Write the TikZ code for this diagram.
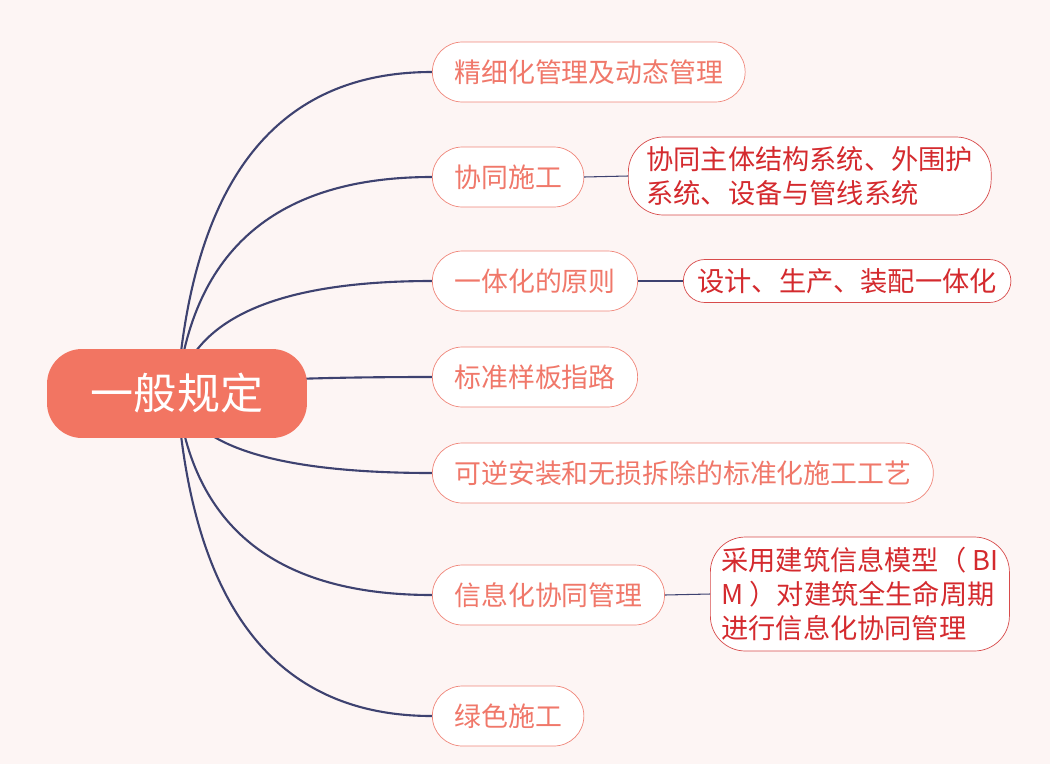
\documentclass[tikz,border=0pt]{standalone}
\usepackage{fontspec}
\setmainfont{Noto Sans CJK SC}
\usetikzlibrary{calc}
\definecolor{bgpink}{HTML}{FDF5F4}
\definecolor{rootred}{HTML}{F27562}
\definecolor{topicline}{HTML}{F0867A}
\definecolor{topictext}{HTML}{F0786A}
\definecolor{leafred}{HTML}{D42A2E}
\definecolor{leafline}{HTML}{D84B4B}
\definecolor{navy}{HTML}{3E4270}
\pgfdeclarelayer{bg}
\pgfsetlayers{bg,main}
\tikzset{
	root/.style={fill=rootred, text=white, rounded corners=0.7cm, minimum width=5.2cm, minimum height=1.78cm, font=\fontsize{24.5}{28}\selectfont},
	topic/.style={draw=topicline, fill=white, text=topictext, rounded corners=0.6cm, minimum height=1.2cm, inner xsep=0.44cm, anchor=west, font=\fontsize{15.3}{18}\selectfont},
	detail/.style={draw=leafline, fill=white, text=leafred, align=left, anchor=west, inner xsep=0.34cm, font=\fontsize{15.5}{19.3}\selectfont},
	branch/.style={draw=navy, line width=1.2pt},
	twig/.style={draw=navy, line width=0.6pt},
}
\begin{document}
\begin{tikzpicture}[x=0.02cm, y=-0.02cm]
		\useasboundingbox (0, 0) rectangle (1050, 764);
		\node[root] (gen) at (177, 393.5) {一般规定};
		\node[topic] (fine) at (432, 72) {精细化管理及动态管理};
		\node[topic] (coop) at (432, 177) {协同施工};
		\node[topic] (integ) at (432, 281) {一体化的原则};
		\node[topic] (sample) at (432, 377) {标准样板指路};
		\node[topic] (revers) at (432, 473) {可逆安装和无损拆除的标准化施工工艺};
		\node[topic] (info) at (432, 595) {信息化协同管理};
		\node[topic] (green) at (432, 716) {绿色施工};
		\node[detail, rounded corners=0.7cm, minimum height=1.56cm, inner xsep=0.36cm] (coopx) at (628, 176) {协同主体结构系统、外围护\\系统、设备与管线系统};
		\node[detail, rounded corners=0.43cm, minimum height=0.86cm, inner xsep=0.28cm] (integx) at (683, 281) {设计、生产、装配一体化};
		\node[detail, rounded corners=0.7cm, minimum height=2.28cm, inner xsep=0.22cm] (infox) at (710, 594) {采用建筑信息模型（ BI\\M ）对建筑全生命周期\\进行信息化协同管理};
		\coordinate (bend) at (200, 393.5);
		% curves under the root node
		\begin{pgfonlayer}{bg}
			\fill[bgpink] (0, 0) rectangle (1050, 764);
			\foreach \t in {fine, coop, integ, sample, revers, info, green}
				\draw[branch] (gen.center) .. controls ($(gen.center)!0.667!(bend |- \t.west)$) and ($(\t.west)!0.667!(bend |- \t.west)$) .. (\t.west);
		\end{pgfonlayer}
		\draw[twig] (coop.east) -- (coopx.west);
		\draw[twig] (integ.east) -- (integx.west);
		\draw[twig] (info.east) -- (infox.west);
\end{tikzpicture}
\end{document}
